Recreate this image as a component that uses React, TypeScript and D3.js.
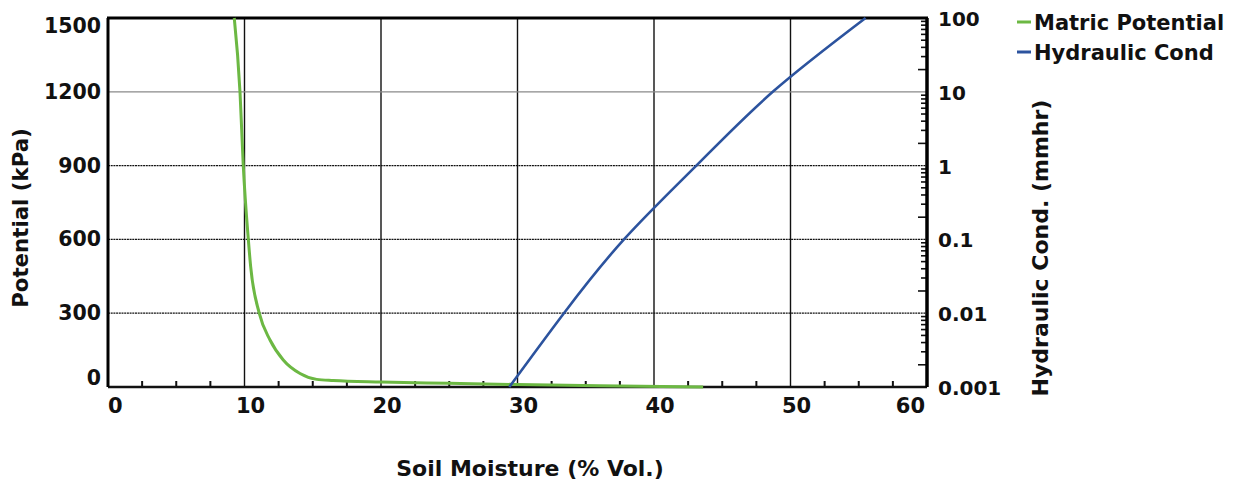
import React, { useEffect, useRef } from 'react';
import * as d3 from 'd3';

// soil water retention curve (matric potential, kPa)
const moisturePot = [9.25, 9.67, 9.91, 10.28, 10.45, 11.08, 11.87, 12.84, 14.07, 15.29, 16.5, 20, 25, 30, 36, 43.6];
const potential = [1500, 1200, 900, 600, 490, 300, 191, 110, 55, 31, 26, 20, 15, 10, 5, 0];

// hydraulic conductivity (mm/hr, log)
const moistureCond = [29.4, 33.4, 37.8, 43.1, 48.7, 55.5];
const conductivity = [0.001, 0.01, 0.1, 1, 10, 100];

const xTicks = [0, 10, 20, 30, 40, 50, 60];
const yTicks = [0, 300, 600, 900, 1200, 1500];
const kTicks = [0.001, 0.01, 0.1, 1, 10, 100];
const kLabels = ['0.001', '0.01', '0.1', '1', '10', '100'];

const GREEN = '#6cb843';
const BLUE = '#2c539e';
const FONT = '"DejaVu Sans", sans-serif';

const App: React.FC = () => {
    const ref = useRef<SVGSVGElement | null>(null);

    useEffect(() => {
        if (!ref.current) return;
        const svg = d3.select(ref.current);
        svg.selectAll('*').remove();

        const margin = { left: 108, right: 927, top: 18, bottom: 387 };
        const x = d3.scaleLinear().domain([0, 60]).range([margin.left, margin.right]);
        const y = d3.scaleLinear().domain([0, 1500]).range([margin.bottom, margin.top]);
        const yk = d3.scaleLog().domain([0.001, 100]).range([margin.bottom, margin.top]);

        // grid
        svg.append('g').selectAll('line')
            .data(xTicks.slice(1, -1))
            .join('line')
            .attr('x1', d => x(d)).attr('x2', d => x(d))
            .attr('y1', margin.top).attr('y2', margin.bottom)
            .attr('stroke', '#111').attr('stroke-width', 1.4);

        svg.append('g').selectAll('line')
            .data(yTicks.slice(1, -1))
            .join('line')
            .attr('x1', margin.left).attr('x2', margin.right)
            .attr('y1', d => y(d)).attr('y2', d => y(d))
            .attr('stroke', d => d === 1200 ? '#8a8a8a' : '#111')
            .attr('stroke-width', 1.3)
            .attr('stroke-dasharray', d => d === 1200 ? null : '2,0.7');

        // bottom minor ticks every 2.5
        svg.append('g').selectAll('line')
            .data(d3.range(2.5, 60, 2.5).filter(d => d % 10 !== 0))
            .join('line')
            .attr('x1', d => x(d)).attr('x2', d => x(d))
            .attr('y1', margin.bottom).attr('y2', margin.bottom - 6)
            .attr('stroke', '#111').attr('stroke-width', 2);

        // right log ticks
        const minor: { v: number; m: number }[] = [];
        kTicks.slice(0, -1).forEach(dec => {
            for (let m = 2; m <= 9; m++) minor.push({ v: dec * m, m });
        });
        svg.append('g').selectAll('line')
            .data(minor)
            .join('line')
            .attr('x1', margin.right).attr('x2', d => margin.right - (d.m === 2 ? 9 : 6))
            .attr('y1', d => yk(d.v)).attr('y2', d => yk(d.v))
            .attr('stroke', '#111').attr('stroke-width', 1.6);

        // frame
        svg.append('line').attr('x1', margin.left).attr('x2', margin.right)
            .attr('y1', margin.bottom).attr('y2', margin.bottom)
            .attr('stroke', '#111').attr('stroke-width', 2.5);
        svg.append('line').attr('x1', margin.left - 1).attr('x2', margin.right + 1)
            .attr('y1', margin.top).attr('y2', margin.top)
            .attr('stroke', '#000').attr('stroke-width', 3);
        svg.append('line').attr('x1', margin.left).attr('x2', margin.left)
            .attr('y1', margin.top).attr('y2', margin.bottom)
            .attr('stroke', '#000').attr('stroke-width', 3);
        svg.append('line').attr('x1', margin.right).attr('x2', margin.right)
            .attr('y1', margin.top).attr('y2', margin.bottom)
            .attr('stroke', '#000').attr('stroke-width', 3.5);

        // curves
        const potData = moisturePot.map((m, i) => ({ m, v: potential[i] }));
        const condData = moistureCond.map((m, i) => ({ m, v: conductivity[i] }));

        svg.append('path')
            .datum(potData)
            .attr('fill', 'none')
            .attr('stroke', GREEN)
            .attr('stroke-width', 3)
            .attr('d', d3.line<{ m: number; v: number }>()
                .x(d => x(d.m)).y(d => y(d.v))
                .curve(d3.curveMonotoneX));

        svg.append('path')
            .datum(condData)
            .attr('fill', 'none')
            .attr('stroke', BLUE)
            .attr('stroke-width', 2.6)
            .attr('d', d3.line<{ m: number; v: number }>()
                .x(d => x(d.m)).y(d => yk(d.v))
                .curve(d3.curveNatural));

        const txt = (sel: d3.Selection<SVGTextElement, any, any, any>, size: number) =>
            sel.attr('font-family', FONT).attr('font-weight', 700)
                .attr('font-size', size).attr('fill', '#111');

        // left tick labels (clamped inside the plot height)
        svg.append('g').selectAll('text')
            .data(yTicks)
            .join('text')
            .attr('x', margin.left - 7)
            .attr('y', d => Math.min(Math.max(y(d), margin.top + 8), margin.bottom - 9))
            .attr('text-anchor', 'end')
            .attr('dominant-baseline', 'central')
            .text(d => String(d))
            .call(s => txt(s as any, 20.5));

        // right tick labels
        svg.append('g').selectAll('text')
            .data(kTicks)
            .join('text')
            .attr('x', margin.right + 11)
            .attr('y', d => yk(d) + 1)
            .attr('text-anchor', 'start')
            .attr('dominant-baseline', 'central')
            .text((d, i) => kLabels[i])
            .call(s => txt(s as any, 20));

        // bottom tick labels
        svg.append('g').selectAll('text')
            .data(xTicks)
            .join('text')
            .attr('x', d => d === 0 ? x(d) : d === 60 ? x(d) - 2 : x(d) + 6)
            .attr('y', 413)
            .attr('text-anchor', d => d === 0 ? 'start' : d === 60 ? 'end' : 'middle')
            .text(d => String(d))
            .call(s => txt(s as any, 21));

        // axis titles
        svg.append('text')
            .attr('x', 530).attr('y', 476)
            .attr('text-anchor', 'middle')
            .text('Soil Moisture (% Vol.)')
            .call(s => txt(s as any, 22));

        svg.append('text')
            .attr('transform', 'translate(20,218) rotate(-90)')
            .attr('text-anchor', 'middle')
            .attr('dominant-baseline', 'central')
            .text('Potential (kPa)')
            .call(s => txt(s as any, 21.3));

        svg.append('text')
            .attr('transform', 'translate(1040,248) rotate(-90)')
            .attr('text-anchor', 'middle')
            .attr('dominant-baseline', 'central')
            .text('Hydraulic Cond. (mmhr)')
            .call(s => txt(s as any, 22));

        // legend
        const legend = [
            { color: GREEN, label: 'Matric Potential' },
            { color: BLUE, label: 'Hydraulic Cond' },
        ];
        legend.forEach((d, i) => {
            const cy = 22 + i * 30;
            svg.append('line')
                .attr('x1', 1017).attr('x2', 1031)
                .attr('y1', cy).attr('y2', cy)
                .attr('stroke', d.color).attr('stroke-width', 3);
            svg.append('text')
                .attr('x', 1034).attr('y', cy + 7.5)
                .text(d.label)
                .call(s => txt(s as any, 21));
        });
    }, []);

    return (
        <svg
            ref={ref}
            width={1239}
            height={490}
            style={{ position: 'absolute', left: 0, top: 0, background: '#fff' }}
        />
    );
};

export default App;
